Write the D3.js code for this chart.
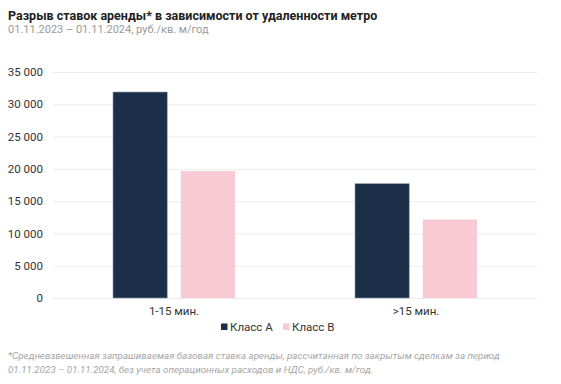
<!DOCTYPE html>
<html>
<head>
<meta charset="utf-8">
<script src="https://cdn.jsdelivr.net/npm/d3@7"></script>
<style>
  body { margin: 0; background: #fff; }
  svg { font-family: Roboto, "Noto Sans", sans-serif; }
</style>
</head>
<body>
<div id="chart"></div>
<script>
// data
const categories = ['1-15 мин.', '>15 мин.'];
const series = ['Класс А', 'Класс В'];
const classA = [31900, 17700];
const classB = [19650, 12150];
const yTicks = [0, 5000, 10000, 15000, 20000, 25000, 30000, 35000];
const colors = ['#1b2f48', '#f9cad3'];

const width = 561, height = 384;
const margin = {top: 72, right: 24, bottom: 86, left: 53};

const svg = d3.select('#chart').append('svg')
    .attr('width', width)
    .attr('height', height);

// titles
svg.append('text')
    .attr('x', 8).attr('y', 20)
    .attr('font-size', 12.5).attr('font-weight', 'bold').attr('fill', '#222')
    .text('Разрыв ставок аренды* в зависимости от удаленности метро');
svg.append('text')
    .attr('x', 8).attr('y', 33)
    .attr('font-size', 11).attr('fill', '#9a9a9a')
    .text('01.11.2023 – 01.11.2024, руб./кв. м/год');

// scales
const x0 = d3.scaleBand()
    .domain(categories)
    .range([margin.left, width - margin.right]);
const x1 = d3.scaleBand()
    .domain(series)
    .range([60, x0.bandwidth() - 60])
    .paddingInner(0.2);
const y = d3.scaleLinear()
    .domain([0, 35000])
    .range([height - margin.bottom, margin.top]);

const fmt = d => d3.format(',')(d).replace(/,/g, '\u2009');

// grid + y axis labels
const yAxis = d3.axisLeft(y)
    .tickValues(yTicks)
    .tickSize(-(width - margin.left - margin.right))
    .tickPadding(10)
    .tickFormat(d => d3.format(',')(d).replace(/,/g, ' '));
const yAxisG = svg.append('g')
    .attr('transform', `translate(${margin.left},0)`)
    .call(yAxis);
yAxisG.select('.domain').remove();
yAxisG.selectAll('line').attr('stroke', '#ececec');
yAxisG.selectAll('text')
    .attr('font-size', 11.5).attr('fill', '#333')
    .attr('font-family', 'Roboto, sans-serif');

// bars
const rows = categories.map((c, i) => ({cat: c, values: [classA[i], classB[i]]}));
const groups = svg.append('g').selectAll('g').data(rows).join('g')
    .attr('transform', d => `translate(${x0(d.cat)},0)`);
groups.selectAll('rect')
    .data(d => d.values.map((v, j) => ({key: series[j], value: v, j})))
    .join('rect')
    .attr('x', d => x1(d.key))
    .attr('y', d => y(d.value))
    .attr('width', x1.bandwidth())
    .attr('height', d => y(0) - y(d.value))
    .attr('fill', d => colors[d.j])
    .attr('stroke', d => d.j === 0 ? '#8a99ab' : 'none')
    .attr('stroke-width', 0.6);

// x labels
const xAxisG = svg.append('g')
    .attr('transform', `translate(0,${height - margin.bottom})`)
    .call(d3.axisBottom(x0).tickSize(0).tickPadding(9));
xAxisG.select('.domain').remove();
xAxisG.selectAll('text')
    .attr('font-size', 11.5).attr('fill', '#333')
    .attr('font-family', 'Roboto, sans-serif');

// legend
const legendX = [221, 283];
const legend = svg.append('g').selectAll('g').data(series).join('g')
    .attr('transform', (d, i) => `translate(${legendX[i]},327)`);
legend.append('rect')
    .attr('x', 0).attr('y', -3.5)
    .attr('width', 6.5).attr('height', 6.5)
    .attr('fill', (d, i) => colors[i]);
legend.append('text')
    .attr('x', 9).attr('y', 4)
    .attr('font-size', 11.5).attr('fill', '#333')
    .text(d => d);

// footnote
const notes = [
    '*Средневзвешенная запрашиваемая базовая ставка аренды, рассчитанная по закрытым сделкам за период',
    '01.11.2023 – 01.11.2024, без учета операционных расходов и НДС, руб./кв. м/год.'
];
svg.append('g').selectAll('text').data(notes).join('text')
    .attr('x', 8)
    .attr('y', (d, i) => 359 + i * 13.5)
    .attr('font-size', 9.8).attr('font-style', 'italic').attr('fill', '#a6a6a6')
    .text(d => d);
</script>
</body>
</html>
